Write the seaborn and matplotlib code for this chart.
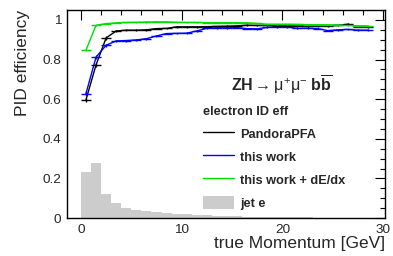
import numpy as np
import pandas as pd
import seaborn as sns
import matplotlib
matplotlib.use("Agg")
import matplotlib.pyplot as plt
from matplotlib.lines import Line2D
from matplotlib.patches import Patch
from matplotlib.ticker import MultipleLocator

# efficiency bins: 1 GeV wide, 0..29 GeV
p_center = np.arange(29) + 0.5

eff_pandora = [0.596, 0.773, 0.909, 0.944, 0.948, 0.948, 0.950, 0.956, 0.957, 0.965,
               0.965, 0.965, 0.966, 0.967, 0.968, 0.970, 0.973, 0.972, 0.972, 0.970,
               0.970, 0.969, 0.968, 0.968, 0.970, 0.972, 0.978, 0.966, 0.965]
err_pandora = [0.012, 0.012, 0.008, 0.005, 0.005, 0.005, 0.004, 0.004, 0.004, 0.004,
               0.004, 0.004, 0.004, 0.004, 0.004, 0.004, 0.004, 0.004, 0.004, 0.004,
               0.004, 0.004, 0.004, 0.004, 0.004, 0.004, 0.004, 0.004, 0.004]

eff_this = [0.628, 0.812, 0.872, 0.894, 0.896, 0.899, 0.905, 0.919, 0.931, 0.932,
            0.933, 0.944, 0.958, 0.960, 0.960, 0.961, 0.956, 0.955, 0.962, 0.965,
            0.964, 0.957, 0.958, 0.956, 0.946, 0.950, 0.952, 0.948, 0.948]
err_this = [0.012, 0.010, 0.007, 0.005, 0.005, 0.005, 0.004, 0.004, 0.004, 0.004,
            0.004, 0.004, 0.004, 0.004, 0.004, 0.004, 0.004, 0.004, 0.004, 0.004,
            0.004, 0.004, 0.004, 0.004, 0.004, 0.004, 0.004, 0.004, 0.004]

eff_dedx = [0.847, 0.973, 0.981, 0.985, 0.987, 0.988, 0.989, 0.990, 0.990, 0.988,
            0.987, 0.987, 0.986, 0.986, 0.986, 0.986, 0.985, 0.982, 0.978, 0.978,
            0.978, 0.977, 0.976, 0.976, 0.975, 0.974, 0.972, 0.970, 0.970]
err_dedx = [0.005, 0.003, 0.003, 0.003, 0.003, 0.003, 0.003, 0.003, 0.003, 0.003,
            0.003, 0.003, 0.003, 0.003, 0.003, 0.003, 0.003, 0.003, 0.003, 0.003,
            0.003, 0.003, 0.003, 0.003, 0.003, 0.003, 0.003, 0.003, 0.003]

# normalised momentum spectrum of electrons in jets, 1 GeV bins 0..30
jet_e = [0.232, 0.279, 0.123, 0.077, 0.052, 0.039, 0.034, 0.029, 0.025, 0.022,
         0.019, 0.016, 0.014, 0.012, 0.010, 0.009, 0.008, 0.007, 0.006, 0.005,
         0.0045, 0.004, 0.0035, 0.003, 0.003, 0.0025, 0.002, 0.002, 0.0015, 0.001]

labels = ["PandoraPFA", "this work", "this work + dE/dx"]
colors = ["black", "#0000ff", "#00dd00"]

sns.set_style("white")
plt.rcParams["font.family"] = ["Liberation Sans", "DejaVu Sans"]
plt.rcParams["mathtext.fontset"] = "custom"
plt.rcParams["mathtext.rm"] = "Liberation Sans"
plt.rcParams["mathtext.bf"] = "Liberation Sans:bold"
plt.rcParams["mathtext.it"] = "Liberation Sans:italic"

fig = plt.figure(figsize=(3.93, 2.56), dpi=100)
ax = fig.add_axes([0.170, 0.148, 0.810, 0.813])

hdf = pd.DataFrame({"p": np.arange(len(jet_e)) + 0.5, "w": jet_e})
sns.histplot(data=hdf, x="p", weights="w", binwidth=1, binrange=(0, 30),
             color="#cccccc", alpha=1, linewidth=0, ax=ax, zorder=1)

df = pd.DataFrame({
    "p": np.tile(p_center, 3),
    "eff": eff_pandora + eff_this + eff_dedx,
    "err": err_pandora + err_this + err_dedx,
    "algo": np.repeat(labels, len(p_center)),
})
sns.lineplot(data=df, x="p", y="eff", hue="algo", palette=dict(zip(labels, colors)),
             linewidth=1.0, legend=False, ax=ax, zorder=3)
for lab, col in zip(labels, colors):
    d = df[df.algo == lab]
    ax.errorbar(d.p, d.eff, xerr=0.5, yerr=d.err, fmt="none", ecolor=col,
                elinewidth=1.0, capsize=0, zorder=3)

ax.set_xlim(-1.4, 30.2)
ax.set_ylim(0, 1.05)
ax.xaxis.set_major_locator(MultipleLocator(10))
ax.xaxis.set_minor_locator(MultipleLocator(2))
ax.yaxis.set_minor_locator(MultipleLocator(0.05))
ax.set_yticks([0, 0.2, 0.4, 0.6, 0.8, 1.0])
ax.set_yticklabels(["0", "0.2", "0.4", "0.6", "0.8", "1"])
ax.tick_params(which="both", direction="in", top=True, right=True, labelsize=9.7,
               color="black", width=0.8)
ax.tick_params(which="major", length=7, pad=4)
ax.tick_params(which="minor", length=3.5)
for s in ax.spines.values():
    s.set_color("black")
    s.set_linewidth(1.0)

ax.set_xlabel("true Momentum [GeV]", fontsize=12.5, loc="right", labelpad=0)
ax.set_ylabel("PID efficiency", fontsize=12.5, loc="top", labelpad=9)

ax.text(0.515, 0.64,
        r"$\mathbf{ZH} \rightarrow \mathrm{\mu}^{+}\mathrm{\mu}^{-}\ \mathbf{b}\overline{\mathbf{b}}$",
        transform=ax.transAxes, fontsize=11.5, ha="left", va="center")

handles = [Line2D([], [], color=c, lw=1.0) for c in colors]
handles.append(Patch(facecolor="#cccccc", edgecolor="none"))
leg = ax.legend(handles, labels + ["jet e"], title="electron ID eff",
                loc="upper left", bbox_to_anchor=(0.428, 0.54), frameon=False,
                prop={"weight": "bold", "size": 9.2},
                title_fontproperties={"weight": "bold", "size": 9.2},
                alignment="left", handlelength=2.4, handleheight=1.2,
                handletextpad=0.5, labelspacing=0.72, borderpad=0, borderaxespad=0)

fig.savefig("out.png", dpi=100)
